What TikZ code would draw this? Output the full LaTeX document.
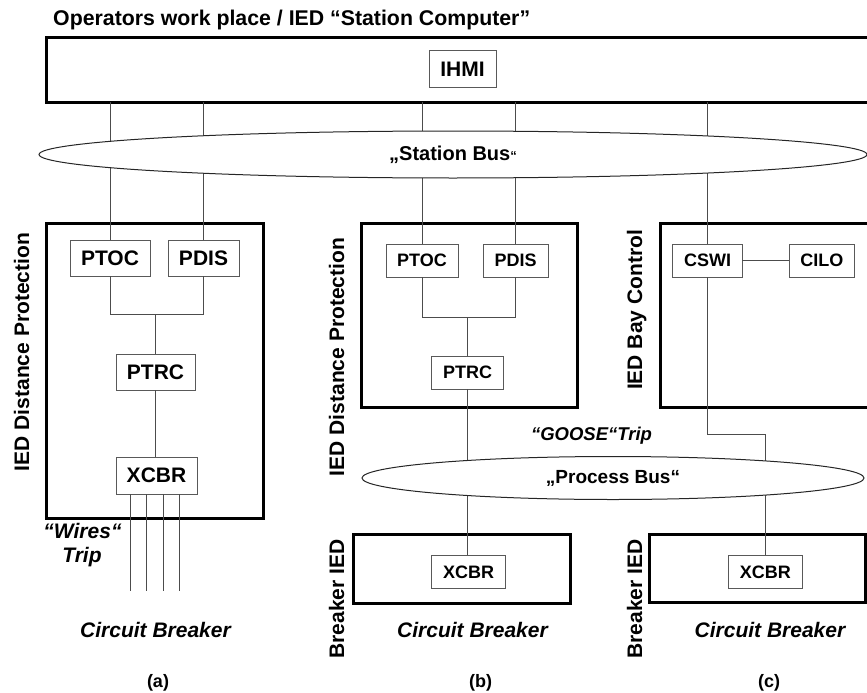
\documentclass[tikz,border=0pt]{standalone}
\usepackage{fontspec}
\setmainfont{Liberation Sans}
\usetikzlibrary{shapes.geometric}
\tikzset{
 bigbox/.style={draw=black, line width=3pt, inner sep=0pt, outer sep=0pt},
 lnbox/.style={draw=black!65, line width=1pt, fill=white, inner sep=0pt, outer sep=0pt, font=\bfseries\fontsize{21}{25}\selectfont},
 lnboxs/.style={lnbox, font=\bfseries\fontsize{18}{22}\selectfont},
 conn/.style={draw=black!70, line width=1pt},
 bus/.style={ellipse, draw=black!85, line width=1pt, fill=white, inner sep=0pt, outer sep=0pt},
 lbl/.style={font=\bfseries\fontsize{21}{25}\selectfont, inner sep=0pt},
 ilbl/.style={font=\bfseries\itshape\fontsize{21}{25}\selectfont, inner sep=0pt},
 vlbl/.style={lbl, rotate=90, anchor=base},
}
\begin{document}
\begin{tikzpicture}[x=1pt, y=-1pt]
\useasboundingbox (0,0) rectangle (867,693);

% title
\node[lbl, font=\bfseries\fontsize{21.3}{25}\selectfont, anchor=base west] (title) at (53,25.5) {Operators work place / IED “Station Computer”};

% big boxes
\node[bigbox, minimum width=854, minimum height=64] (top) at (473,70) {};
\node[bigbox, minimum width=217, minimum height=295] (boxA) at (154.5,370.5) {};
\node[bigbox, minimum width=216, minimum height=184] (boxB) at (469,315) {};
\node[bigbox, minimum width=240, minimum height=184] (boxC) at (780,315) {};
\node[bigbox, minimum width=217, minimum height=69] (boxBb) at (461.5,568.5) {};
\node[bigbox, minimum width=216.5, minimum height=68.5] (boxCb) at (757.7,568.5) {};

% small nodes
\node[lnbox, minimum width=67, minimum height=36.5] (ihmi) at (462.5,69) {IHMI};

\node[lnbox, minimum width=80, minimum height=36] (ptocA) at (110,258) {PTOC};
\node[lnbox, minimum width=71, minimum height=36] (pdisA) at (203.5,258) {PDIS};
\node[lnbox, minimum width=79, minimum height=36] (ptrcA) at (155.5,372) {PTRC};
\node[lnbox, minimum width=81, minimum height=37] (xcbrA) at (156.5,475.5) {XCBR};

\node[lnboxs, minimum width=72, minimum height=33] (ptocB) at (422,260.5) {PTOC};
\node[lnboxs, minimum width=65, minimum height=33] (pdisB) at (515.5,260.5) {PDIS};
\node[lnboxs, minimum width=71.6, minimum height=33.3] (ptrcB) at (467.5,372.7) {PTRC};
\node[lnboxs, minimum width=74, minimum height=33] (xcbrB) at (468.7,571.8) {XCBR};

\node[lnboxs, minimum width=69.6, minimum height=33] (cswi) at (707.5,260.8) {CSWI};
\node[lnboxs, minimum width=65, minimum height=33] (cilo) at (821.8,260.8) {CILO};
\node[lnboxs, minimum width=74, minimum height=33] (xcbrC) at (765.3,571.8) {XCBR};

% helper coordinates
\coordinate (jA) at (155.5,314);
\coordinate (jB) at (467.5,317);
\coordinate (bendC) at (765,434);
\coordinate (w1) at (130,591);
\coordinate (w2) at (146,591);
\coordinate (w3) at (163,591);
\coordinate (w4) at (179,591);

% station bus connections
\draw[conn] (ptocA.north |- top.south) -- (ptocA.north);
\draw[conn] (pdisA.north |- top.south) -- (pdisA.north);
\draw[conn] (ptocB.north |- top.south) -- (ptocB.north);
\draw[conn] (pdisB.north |- top.south) -- (pdisB.north);
\draw[conn] (cswi.north |- top.south) -- (cswi.north);

% column a
\draw[conn] (ptocA.south) |- (jA);
\draw[conn] (pdisA.south) |- (jA);
\draw[conn] (jA) -- (ptrcA.north);
\draw[conn] (ptrcA.south) -- (ptrcA.south |- xcbrA.north);
\draw[conn] (xcbrA.south -| w1) -- (w1);
\draw[conn] (xcbrA.south -| w2) -- (w2);
\draw[conn] (xcbrA.south -| w3) -- (w3);
\draw[conn] (xcbrA.south -| w4) -- (w4);

% column b
\draw[conn] (ptocB.south) |- (jB);
\draw[conn] (pdisB.south) |- (jB);
\draw[conn] (jB) -- (ptrcB.north);
\draw[conn] (ptrcB.south) -- (ptrcB.south |- xcbrB.north);

% column c
\draw[conn] (cswi) -- (cilo);
\draw[conn] (cswi.south) |- (bendC) -- (bendC |- xcbrC.north);

% buses
\node[bus, minimum width=828, minimum height=47, font=\bfseries\fontsize{20}{24}\selectfont] (sbus) at (453,154.5) {„Station Bus{\fontsize{13}{13}\selectfont“}};
\node[bus, minimum width=502, minimum height=43, font=\bfseries\fontsize{19}{23}\selectfont] (pbus) at (613,478) {„Process Bus“};

% labels
\node[vlbl] (lblA) at (29,352) {IED Distance Protection};
\node[vlbl] (lblB) at (344,357) {IED Distance Protection};
\node[vlbl] (lblC) at (642,310) {IED Bay Control};
\node[vlbl] (lblBb) at (344,599) {Breaker IED};
\node[vlbl] (lblCb) at (642,599) {Breaker IED};

\node[ilbl, anchor=base] (wires) at (82.5,538) {“Wires“};
\node[ilbl, anchor=base] (trip) at (82,562) {Trip};
\node[ilbl, font=\bfseries\itshape\fontsize{18.5}{22}\selectfont, anchor=base] (goose) at (591.5,440.5) {“GOOSE“Trip};

\node[ilbl, anchor=base] (cbA) at (155.5,637) {Circuit Breaker};
\node[ilbl, anchor=base] (cbB) at (472.5,637) {Circuit Breaker};
\node[ilbl, anchor=base] (cbC) at (770,637) {Circuit Breaker};

\node[lbl, font=\bfseries\fontsize{18}{22}\selectfont] (capA) at (158,682.5) {(a)};
\node[lbl, font=\bfseries\fontsize{18}{22}\selectfont] (capB) at (480.5,682.5) {(b)};
\node[lbl, font=\bfseries\fontsize{18}{22}\selectfont] (capC) at (769,682.5) {(c)};
\end{tikzpicture}
\end{document}
